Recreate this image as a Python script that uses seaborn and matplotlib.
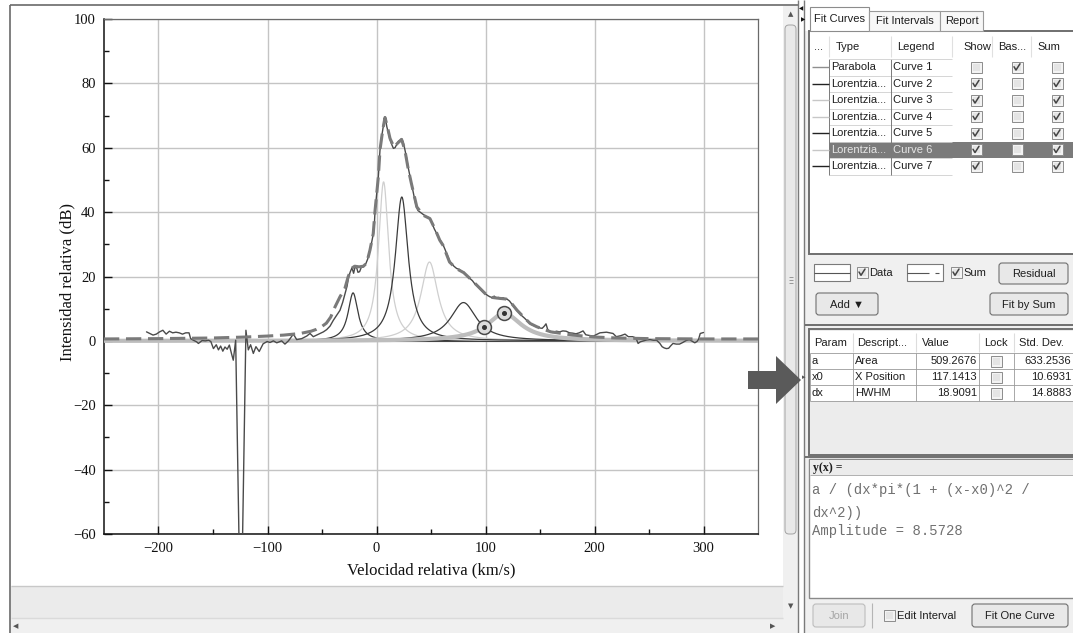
import numpy as np
import matplotlib
matplotlib.use("Agg")
import matplotlib.pyplot as plt
import seaborn as sns
from matplotlib.patches import Rectangle, Polygon, FancyBboxPatch

sns.set_theme(style="white")
plt.rcParams["font.family"] = ["Liberation Serif", "DejaVu Serif"]
plt.rcParams["axes.unicode_minus"] = True

W, H = 1073, 633
UI = ["Liberation Sans", "DejaVu Sans"]
MONO = ["Liberation Mono", "DejaVu Sans Mono"]

# ---------------------------------------------------------------- spectrum
vel = [-211, -208, -205, -202, -199, -196, -193, -190, -187, -184, -181, -178, -175, -172, -170.5,
       -168, -165, -163.4, -160, -157, -154, -152,
       -149.6, -147, -145, -143, -141, -139, -137, -135, -133, -131.4,
       -129.2, -124.5, -119.8,
       -117.6, -115.5, -113, -110.6, -107.6, -104, -100.3,
       -97.7, -94.6, -91.5, -87, -84, -80.8, -76.3, -73.2, -68.6, -64, -61, -58, -54.8, -51.8, -48.7, -45.7, -42.6, -39.6,
       -36.5, -33.5, -31, -29, -27, -25.5, -24, -22.5, -21, -20, -18.5, -17, -15.5, -14, -12, -10, -8,
       -6, -4.5, -2.9, -2, -1.3, 0, 1.7, 3.2, 4.5, 5.7, 7, 7.8,
       8.5, 9.5, 11, 12.5, 14, 15.5, 17, 18.5, 20, 21.5, 23, 24.5, 26, 27.5, 29, 30.5, 32, 33.5, 35, 36.5, 38,
       40, 42, 44, 46, 48, 49.5, 51, 53, 55, 57, 58.5, 60, 61.5, 63, 64.5, 66, 67.5, 69, 71, 73.5, 76, 78, 80,
       82, 84, 86, 88, 90, 92, 94, 96, 98, 100, 102, 104, 106, 108, 110, 112, 114, 116, 118, 120,
       122, 124, 126, 128, 130, 132, 134, 136, 138, 140, 142, 144, 146, 148, 150, 152, 154, 155.5, 157, 159,
       162, 165, 168, 171, 174, 177, 180, 183, 186, 189.5, 192, 195, 199, 202, 205, 208, 211, 214, 217, 220,
       224, 228, 231, 235, 238,
       240, 242, 245, 248, 251, 254, 257, 260, 262, 264, 266, 268, 270, 272, 275, 278, 281, 284, 287, 290,
       292, 294, 295.5, 297, 300]
intensity = [2.8, 2.3, 1.8, 2.1, 2.8, 3.3, 2.1, 3.0, 2.5, 2.7, 2.5, 2.1, 2.5, 2.5, 0.7,
             0.2, -0.3, -0.8, 0.1, 0.0, 0.2, -0.2,
             -2.4, -1.2, -2.8, -1.6, -3.2, -1.9, -2.6, -1.3, -4.0, -6.0,
             0.2, -95.0, 3.3,
             -2.8, -1.2, -3.9, -1.8, -3.3, -0.9, -0.2,
             -0.5, 0.0, -0.6, 0.0, -1.0, 0.0, 2.1, 0.4, 0.7, 1.5, 2.3, 1.3, 1.8, 2.3, 2.8, 3.5, 4.6, 6.4,
             8.0, 9.5, 12.0, 14.5, 17.0, 20.0, 21.5, 22.7, 21.0, 22.5, 23.1, 21.3, 21.5, 22.8, 23.0, 23.8, 25.5,
             28.2, 30.5, 33.3, 36.0, 40.6, 45.0, 51.0, 59.3, 63.0, 65.5, 68.5, 69.6,
             68.5, 66.5, 64.5, 62.5, 61.0, 59.8, 60.0, 61.0, 62.0, 62.3, 62.8, 61.8, 59.5, 57.0, 54.0, 51.5, 49.0, 46.5, 44.0, 41.8, 40.5,
             40.0, 39.5, 39.0, 38.5, 38.3, 37.8, 36.5, 34.8, 33.5, 32.0, 31.2, 30.5, 29.5, 28.3, 27.0, 25.8, 24.5, 24.0, 23.2, 22.5, 22.2, 21.6, 21.4,
             20.5, 19.8, 19.3, 18.7, 17.8, 17.2, 16.5, 15.8, 15.1, 14.6, 14.1, 13.7, 13.5, 13.9, 13.2, 13.5, 13.1, 13.4, 13.0, 12.9,
             12.4, 11.5, 10.6, 9.7, 9.0, 8.2, 7.6, 7.0, 6.3, 5.6, 5.1, 4.8, 4.5, 4.3, 4.0, 3.9, 4.6, 5.3, 3.6, 2.8,
             2.6, 3.0, 2.8, 3.1, 3.0, 2.5, 2.4, 2.2, 2.5, 3.1, 1.9, 1.7, 1.5, 2.0, 2.5, 2.6, 2.7, 2.5, 2.3, 1.3,
             1.6, 2.1, 1.3, 1.3, 0.9,
             -0.8, -0.3, 0.0, 0.3, 0.4, 0.2, 0.2, -0.8, -1.8, -2.2, -2.4, -2.3, -1.5, -0.8, -1.0, -1.0, -0.5, 0.1, 0.4, -0.2,
             -0.6, -0.2, 0.5, 2.3, 2.6]
assert len(vel) == len(intensity)

# fitted sum of all curves
sum_vel = [-250, -200, -150, -120, -100, -85, -70, -60, -55, -50, -46, -42, -38, -33.5, -29, -26, -23, -20,
           -16, -12, -9, -6, -3, -1.3, 1.7, 3.2, 5.7, 7.8, 10, 12.4, 16, 19, 23, 26, 29, 32, 37, 43, 49,
           54, 58, 61, 64, 67, 73, 80, 86, 92, 100, 106, 113, 119, 124, 129, 135, 141, 147, 153, 160,
           170, 180, 190, 200, 220, 250, 300, 350]
sum_int = [0.6, 0.7, 0.9, 1.2, 1.5, 1.8, 2.3, 3.0, 3.6, 4.5, 5.5, 7.4, 10.6, 13.7, 16.3, 19.9, 22.5, 23.2,
           23.0, 23.2, 24.2, 28.2, 33.3, 40.6, 51.0, 59.3, 65.5, 69.4, 66.5, 62.9, 60.2, 61.3, 62.6, 59.3,
           53.6, 48.9, 41.6, 39.0, 38.0, 34.5, 31.3, 29.7, 27.1, 24.5, 22.5, 21.2, 19.3, 17.3, 14.6, 13.5,
           13.2, 13.0, 11.6, 9.5, 7.4, 5.4, 4.4, 3.6, 2.8, 2.3, 1.8, 1.5, 1.2, 0.9, 0.7, 0.6, 0.6]
assert len(sum_vel) == len(sum_int)

# Lorentzian curves 2..7: area a, position x0, half width dx
curve_area = [257.5, 884.6, 731.2, 1011.1, 509.2676, 542.1]
curve_x0 = [-21.5, 6.5, 48.6, 23.2, 117.1413, 79.8]
curve_dx = [5.5, 5.7, 9.5, 7.2, 18.9091, 14.5]
selected = 4  # Curve 6

# curve list table
curve_types = ["Parabola", "Lorentzia...", "Lorentzia...", "Lorentzia...", "Lorentzia...", "Lorentzia...", "Lorentzia..."]
curve_names = ["Curve 1", "Curve 2", "Curve 3", "Curve 4", "Curve 5", "Curve 6", "Curve 7"]
curve_show = [False, True, True, True, True, True, True]
curve_base = [True, False, False, False, False, False, False]
curve_sum = [False, True, True, True, True, True, True]

# parameter table of the selected curve
param_names = ["a", "x0", "dx"]
param_desc = ["Area", "X Position", "HWHM"]
param_values = [curve_area[selected], curve_x0[selected], curve_dx[selected]]
param_std = [633.2536, 10.6931, 14.8883]


def lorentz(x, a, x0, dx):
    return a / (dx * np.pi * (1 + (x - x0) ** 2 / dx ** 2))


fig = plt.figure(figsize=(W / 100, H / 100), dpi=100)
fig.patch.set_facecolor("white")

# ------------------------------------------------------------ window chrome
ui = fig.add_axes([0, 0, 1, 1], zorder=0)
ui.set_xlim(0, W)
ui.set_ylim(H, 0)
ui.axis("off")
ui.patch.set_visible(False)


def box(ax, x0, y0, x1, y1, fc="none", ec="none", lw=0.8, z=1):
    ax.add_patch(Rectangle((x0, y0), x1 - x0, y1 - y0, facecolor=fc, edgecolor=ec, linewidth=lw, zorder=z))


def seg(ax, x0, y0, x1, y1, color, lw=0.8, z=2):
    ax.plot([x0, x1], [y0, y1], color=color, lw=lw, zorder=z, solid_capstyle="butt")


def txt(ax, x, y, s, size=8, ha="left", color="#1e1e1e", family=UI, weight="normal", z=4):
    ax.text(x, y, s, fontsize=size, ha=ha, va="center", color=color, family=family, weight=weight, zorder=z)


def checkbox(ax, cx, cy, checked, s=11):
    box(ax, cx - s / 2, cy - s / 2, cx + s / 2, cy + s / 2, fc="#f3f3f3", ec="#8c8c8c", lw=0.7, z=3)
    box(ax, cx - s / 2 + 2, cy - s / 2 + 2, cx + s / 2 - 2, cy + s / 2 - 2, fc="#e4e4e4", ec="none", z=3)
    if checked:
        ax.plot([cx - 3, cx - 1, cx + 3], [cy - 0.5, cy + 2.8, cy - 3.5], color="#444444", lw=1.1, zorder=4)


def button(ax, x0, y0, x1, y1, label, enabled=True):
    ax.add_patch(FancyBboxPatch((x0, y0), x1 - x0, y1 - y0, boxstyle="round,pad=0,rounding_size=3",
                                facecolor="#e8e8e8", edgecolor="#707070" if enabled else "#bdbdbd",
                                linewidth=0.8, zorder=3))
    txt(ax, (x0 + x1) / 2, (y0 + y1) / 2 + 0.5, label, ha="center",
        color="#1e1e1e" if enabled else "#a5a5a5")


# left window frame, status bar and scroll bars
seg(ui, 10, 5, 798, 5, "#6a6a6a", lw=1.2)
seg(ui, 10, 5, 10, H, "#6a6a6a", lw=1.2)
box(ui, 11, 586, 783, 618, fc="#ebebeb", ec="none")
seg(ui, 11, 586, 783, 586, "#c8c8c8", lw=1.0)
box(ui, 11, 618, 783, H, fc="#f0f0f0", ec="none")
seg(ui, 11, 618, 783, 618, "#dadada", lw=1.0)
txt(ui, 13, 626, "◀", size=5, color="#555555", family=["DejaVu Sans"])
txt(ui, 770, 626, "▶", size=5, color="#555555", family=["DejaVu Sans"])
box(ui, 783, 6, 798, H, fc="#f0f0f0", ec="none")
ui.add_patch(FancyBboxPatch((785, 25), 11, 509, boxstyle="round,pad=0,rounding_size=4",
                            facecolor="#e9e9e9", edgecolor="#a3a3a3", linewidth=0.7, zorder=2))
for gy in (277, 280, 283):
    seg(ui, 788.5, gy, 792.5, gy, "#8a8a8a", lw=0.6, z=3)
txt(ui, 790.5, 14, "▲", size=5, ha="center", color="#555555", family=["DejaVu Sans"])
txt(ui, 790.5, 606, "▼", size=5, ha="center", color="#555555", family=["DejaVu Sans"])

# splitter
seg(ui, 798, 0, 798, H, "#7a7a7a", lw=1.0)
seg(ui, 804, 0, 804, H, "#7a7a7a", lw=1.0)
txt(ui, 801, 9, "◀", size=4, ha="center", color="#111111", family=["DejaVu Sans"])
txt(ui, 803, 20, "▶", size=4, ha="center", color="#111111", family=["DejaVu Sans"])

# right panel background
box(ui, 805, 0, W, H, fc="#f0f0f0", ec="none", z=0.5)
box(ui, 805, 0, W, 31, fc="white", ec="none", z=0.6)

# tabs
box(ui, 810, 7, 869, 31, fc="white", ec="#8c8c8c", lw=0.8, z=2)
box(ui, 869, 11, 940, 31, fc="#f7f7f7", ec="#9a9a9a", lw=0.8, z=2)
box(ui, 940, 11, 983, 31, fc="#f7f7f7", ec="#9a9a9a", lw=0.8, z=2)
txt(ui, 839.5, 19, "Fit Curves", ha="center")
txt(ui, 904.5, 21, "Fit Intervals", ha="center")
txt(ui, 961.5, 21, "Report", ha="center")

# curve list
box(ui, 809, 31, W + 2, 254, fc="white", ec="#6f6f6f", lw=1.4, z=1)
hdr_y = 47
txt(ui, 814, hdr_y, "...")
txt(ui, 836, hdr_y, "Type")
txt(ui, 897, hdr_y, "Legend")
txt(ui, 963, hdr_y, "Show")
txt(ui, 998, hdr_y, "Bas...")
txt(ui, 1037, hdr_y, "Sum")
for sx in (829, 891, 952, 992, 1031):
    seg(ui, sx, 36, sx, 57, "#e0e0e0", lw=0.8)

row_h = 16.5
row_top = 59
line_tones = ["#8f8f8f", "#222222", "#c7c7c7", "#c7c7c7", "#222222", "#c7c7c7", "#222222"]
for i in range(len(curve_names)):
    y0 = row_top + i * row_h
    yc = y0 + row_h / 2
    if i == selected + 1:
        box(ui, 829, y0 + 0.5, W + 1, y0 + row_h - 0.5, fc="#7b7b7b", ec="none", z=1.5)
        tcol = "#e6e6e6"
    else:
        tcol = "#1e1e1e"
    seg(ui, 812, yc, 829, yc, line_tones[i], lw=1.0)
    seg(ui, 829, y0 + row_h, 952, y0 + row_h, "#cfcfcf", lw=0.6, z=1.6)
    txt(ui, 831, yc, curve_types[i], color=tcol)
    txt(ui, 893, yc, curve_names[i], color=tcol)
    checkbox(ui, 976, yc, curve_show[i])
    checkbox(ui, 1017, yc, curve_base[i])
    checkbox(ui, 1057, yc, curve_sum[i])
n_rows = len(curve_names)
seg(ui, 829, row_top, 829, row_top + n_rows * row_h, "#7a7a7a", lw=0.7, z=1.6)
seg(ui, 891, row_top, 891, row_top + n_rows * row_h, "#7a7a7a", lw=0.7, z=1.6)
seg(ui, 829, row_top, 952, row_top, "#cfcfcf", lw=0.6, z=1.6)

# data / sum controls
box(ui, 814, 264, 850, 281, fc="white", ec="#7a7a7a", lw=0.8, z=2)
seg(ui, 814, 272.5, 850, 272.5, "#555555", lw=0.8, z=3)
checkbox(ui, 862, 272.5, True)
txt(ui, 869, 273, "Data")
box(ui, 907, 264, 943, 281, fc="white", ec="#7a7a7a", lw=0.8, z=2)
seg(ui, 907, 272.5, 929, 272.5, "#555555", lw=0.8, z=3)
seg(ui, 935, 272.5, 939, 272.5, "#555555", lw=0.8, z=3)
checkbox(ui, 956, 272.5, True)
txt(ui, 963, 273, "Sum")
button(ui, 999, 263, 1068, 284, "Residual")
button(ui, 816, 293, 878, 315, "Add ▼")
button(ui, 990, 293, 1068, 315, "Fit by Sum")

# parameter table
seg(ui, 805, 325, W, 325, "#6f6f6f", lw=1.4)
box(ui, 809, 329, W + 2, 455, fc="#ececec", ec="#6f6f6f", lw=1.4, z=1)
box(ui, 810, 331, W + 2, 353, fc="white", ec="none", z=1.2)
txt(ui, 814, 343, "Param")
txt(ui, 857, 343, "Descript...")
txt(ui, 922, 343, "Value")
txt(ui, 984, 343, "Lock")
txt(ui, 1019, 343, "Std. Dev.")
cols = [853, 916, 979, 1014]
for sx in cols:
    seg(ui, sx, 333, sx, 352, "#dddddd", lw=0.8)
prow_h = 16
for i in range(len(param_names)):
    y0 = 353 + i * prow_h
    yc = y0 + prow_h / 2
    box(ui, 810, y0, W + 2, y0 + prow_h, fc="white", ec="none", z=1.2)
    txt(ui, 812, yc, param_names[i])
    txt(ui, 855, yc, param_desc[i])
    txt(ui, 977, yc, f"{param_values[i]:.4f}", ha="right")
    checkbox(ui, 996.5, yc, False)
    txt(ui, 1071, yc, f"{param_std[i]:.4f}", ha="right")
for i in range(len(param_names) + 1):
    seg(ui, 810, 353 + i * prow_h, W, 353 + i * prow_h, "#9a9a9a", lw=0.6, z=1.6)
for sx in [810] + cols:
    seg(ui, sx, 353, sx, 353 + len(param_names) * prow_h, "#9a9a9a", lw=0.6, z=1.6)
txt(ui, 804, 377, "▸", size=5, ha="center", color="#555555", family=["DejaVu Sans"])

# formula panel; the amplitude readout is truncated to four decimals
amp = curve_area[selected] / (np.pi * curve_dx[selected])
amp_shown = np.floor(amp * 1e4) / 1e4
seg(ui, 805, 457, W, 457, "#6f6f6f", lw=1.4)
box(ui, 809, 459, W + 2, 598, fc="white", ec="#8a8a8a", lw=1.0, z=1)
box(ui, 810, 460, W + 2, 475, fc="#ececec", ec="none", z=1.2)
seg(ui, 810, 475, W, 475, "#b0b0b0", lw=0.7)
txt(ui, 813, 467.5, "y(x) =", size=8.5, family=["Liberation Serif"], weight="bold")
txt(ui, 812, 490, "a / (dx*pi*(1 + (x-x0)^2 /", size=10, family=MONO, color="#707070")
txt(ui, 812, 513, "dx^2))", size=10, family=MONO, color="#707070")
txt(ui, 812, 531, f"Amplitude = {amp_shown:.4f}", size=10, family=MONO, color="#707070")

# bottom buttons
button(ui, 813, 604, 865, 627, "Join", enabled=False)
seg(ui, 872, 603, 872, 628, "#b5b5b5", lw=0.8)
checkbox(ui, 889, 615.5, False)
txt(ui, 897, 616, "Edit Interval")
button(ui, 972, 604, 1068, 627, "Fit One Curve")

# ------------------------------------------------------------------ chart
ax = fig.add_axes([104 / W, 1 - 534 / H, 654 / W, 515 / H], zorder=2)
ax.set_facecolor("white")
ax.set_xlim(-250, 350)
ax.set_ylim(-60, 100)
ax.set_xticks(np.arange(-200, 301, 100))
ax.set_xticks([-150, -50, 50, 150, 250], minor=True)
ax.set_yticks(np.arange(-60, 101, 20))
ax.set_yticks([-50, -30, -10, 10, 30, 50, 70, 90], minor=True)
ax.grid(which="major", color="#c4c4c4", lw=1.0)
ax.set_axisbelow(True)
for side in ("left", "bottom"):
    ax.spines[side].set_color("#111111")
    ax.spines[side].set_linewidth(1.1)
for side in ("top", "right"):
    ax.spines[side].set_color("#6a6a6a")
    ax.spines[side].set_linewidth(0.9)
ax.tick_params(which="both", direction="in", left=True, bottom=True, top=False, right=False,
               colors="#111111", labelsize=10.5, pad=6, width=1)
ax.tick_params(which="major", length=6)
ax.tick_params(which="minor", length=3.5)

xs = np.linspace(-250, 350, 2401)
ax.axhline(0, color="#3a3a3a", lw=1.3, zorder=2)
tones = ["#3a3a3a", "#cfcfcf", "#cfcfcf", "#3a3a3a", "#bdbdbd", "#3a3a3a"]
for i in range(len(curve_area)):
    ys = lorentz(xs, curve_area[i], curve_x0[i], curve_dx[i])
    lw = 3.0 if i == selected else 0.9
    sns.lineplot(x=xs, y=ys, ax=ax, color=tones[i], lw=lw, estimator=None, sort=False,
                 zorder=3 if i == selected else 2.5)

sns.lineplot(x=vel, y=intensity, ax=ax, color="#4a4a4a", lw=1.0, estimator=None, sort=False, zorder=4)
sns.lineplot(x=sum_vel, y=sum_int, ax=ax, color="#7a7a7a", lw=2.2, linestyle=(0, (5, 2.2)),
             estimator=None, sort=False, zorder=5)

# handles of the selected curve: peak and half maximum
x0s, dxs = curve_x0[selected], curve_dx[selected]
hx = [x0s - dxs, x0s]
hy = [amp / 2, amp]
ax.plot(hx, hy, "o", ms=10, mfc="#dcdcdc", mec="#4a4a4a", mew=1.1, zorder=6)
ax.plot(hx, hy, "o", ms=2.6, color="#333333", zorder=7)

ax.set_xlabel("Velocidad relativa (km/s)", fontsize=12, labelpad=5, color="#111111")
ax.set_ylabel("Intensidad relativa (dB)", fontsize=12, color="#111111")
ax.yaxis.set_label_coords(-0.043, 0.49)

# ------------------------------------------------------------- pointer arrow
top = fig.add_axes([0, 0, 1, 1], zorder=8)
top.set_xlim(0, W)
top.set_ylim(H, 0)
top.axis("off")
top.patch.set_visible(False)
top.add_patch(Polygon([(748, 371), (776, 371), (776, 356), (801, 380), (776, 404), (776, 389), (748, 389)],
                      closed=True, facecolor="#5a5a5a", edgecolor="none"))

fig.savefig("out.png", dpi=100)
